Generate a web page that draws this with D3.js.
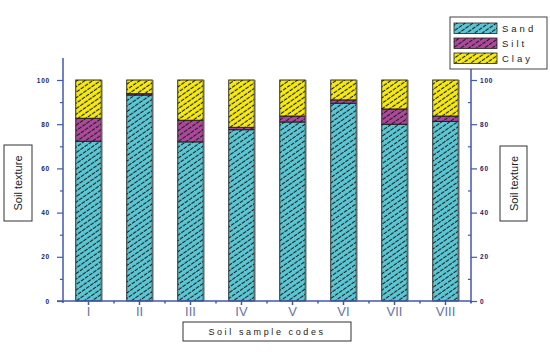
<!DOCTYPE html>
<html><head><meta charset="utf-8">
<script src="https://cdn.jsdelivr.net/npm/d3@7"></script>
<style>body{margin:0;background:#fff;} svg{display:block;font-family:Arial,"Liberation Sans",sans-serif;}</style>
</head><body><svg id="c" width="550" height="354"></svg>
<script>
const categories = ["I","II","III","IV","V","VI","VII","VIII"];
const sand = [72.3, 93.2, 72, 77.5, 81, 89.5, 80, 81.3];
const silt = [10.4, 0.6, 9.8, 1.1, 2.7, 1.5, 6.9, 2.4];
const clay = [17.3, 6.2, 18.2, 21.4, 16.3, 9, 13.1, 16.3];
const seriesNames = ["Sand","Silt","Clay"];
const seriesColors = ["#5cc8d6","#b0489c","#f9ea12"];
const yTicks = [0,20,40,60,80,100];

const svg = d3.select("#c");
const x0 = 63, x1 = 471, yb = 301, yt = 80;
const x = d3.scaleBand().domain(categories).range([x0, x1]).paddingInner(0.5).paddingOuter(0.25);
const y = d3.scaleLinear().domain([0,100]).range([yb, yt]);

const defs = svg.append("defs");
seriesColors.forEach((c,i)=>{
  const p = defs.append("pattern").attr("id","h"+i).attr("patternUnits","userSpaceOnUse")
    .attr("width",5).attr("height",4.5).attr("patternTransform","rotate(-35)");
  p.append("rect").attr("width",5).attr("height",4.5).attr("fill",c);
  p.append("line").attr("x1",0).attr("y1",2.2).attr("x2",5).attr("y2",2.2).attr("stroke","#16201f").attr("stroke-width",1.1).attr("stroke-dasharray","4,1");
});

const rows = categories.map((c,i)=>({cat:c, Sand:sand[i], Silt:silt[i], Clay:clay[i]}));
const stack = d3.stack().keys(seriesNames)(rows);
const bw = x.bandwidth();
stack.forEach((s,si)=>{
  svg.append("g").selectAll("rect").data(s).join("rect")
    .attr("x", d=>x(d.data.cat)).attr("width", bw)
    .attr("y", d=>y(d[1])).attr("height", d=>y(d[0])-y(d[1]))
    .attr("fill","url(#h"+si+")").attr("stroke","#1a1a1a").attr("stroke-width",0.9);
});
// shadow edge on right
svg.append("g").selectAll("line").data(categories).join("line")
  .attr("x1",d=>x(d)+bw+1).attr("x2",d=>x(d)+bw+1).attr("y1",y(100)).attr("y2",yb)
  .attr("stroke","#999").attr("stroke-width",1);

const axisCol = "#4158b0";
const lblStyle = a=>a.attr("fill","#1a2466").attr("font-size",6.5).attr("font-weight","900").attr("letter-spacing",0.8);
// left axis
const gl = svg.append("g").attr("transform",`translate(${x0},0)`);
gl.append("line").attr("x1",0).attr("x2",0).attr("y1",58).attr("y2",303).attr("stroke",axisCol).attr("stroke-width",1.5);
gl.append("g").call(d3.axisLeft(y).tickValues(yTicks).tickSize(6).tickFormat(d3.format("d")))
  .call(a=>{a.select(".domain").remove();
    a.selectAll("line").attr("stroke",axisCol).attr("stroke-width",1.2);
    lblStyle(a.selectAll("text").attr("x",-13));});
gl.append("g").call(d3.axisLeft(y).tickValues([10,30,50,70,90]).tickSize(3).tickFormat(""))
  .call(a=>{a.select(".domain").remove();a.selectAll("line").attr("stroke",axisCol).attr("stroke-width",1.2);});
// right axis
const gr = svg.append("g").attr("transform",`translate(${x1},0)`);
gr.append("line").attr("x1",0).attr("x2",0).attr("y1",69).attr("y2",303).attr("stroke",axisCol).attr("stroke-width",1.5);
gr.append("g").call(d3.axisRight(y).tickValues(yTicks).tickSize(6).tickFormat(d3.format("d")))
  .call(a=>{a.select(".domain").remove();
    a.selectAll("line").attr("stroke",axisCol).attr("stroke-width",1.2);
    lblStyle(a.selectAll("text").attr("x",9));});
gr.append("g").call(d3.axisLeft(y).tickValues([10,30,50,70,90]).tickSize(3).tickFormat(""))
  .call(a=>{a.select(".domain").remove();a.selectAll("line").attr("stroke",axisCol).attr("stroke-width",1.2);});

// bottom axis
const gb = svg.append("g").attr("transform",`translate(0,${yb})`);
gb.append("line").attr("x1",57).attr("x2",x1).attr("y1",0).attr("y2",0).attr("stroke",axisCol).attr("stroke-width",1.5);
gb.append("g").call(d3.axisBottom(x).tickSize(4))
  .call(a=>{a.select(".domain").remove();
    a.selectAll("line").attr("stroke",axisCol).attr("stroke-width",1.5);
    a.selectAll("text").attr("fill","#6676a4").attr("font-size",13).attr("y",6).attr("font-family","Liberation Sans, Arial, sans-serif");});
// minor ticks between categories
const step = x.step();
gb.append("g").selectAll("line").data(categories).join("line")
  .attr("x1",d=>x(d)+bw/2+step/2).attr("x2",d=>x(d)+bw/2+step/2)
  .attr("y1",0).attr("y2",2.5).attr("stroke",axisCol).attr("stroke-width",1.5);

// axis title boxes
function vbox(cx, yTop, yBot, w){
  svg.append("rect").attr("x",cx-w/2).attr("y",yTop).attr("width",w).attr("height",yBot-yTop)
    .attr("fill","#fff").attr("stroke","#333").attr("stroke-width",1);
  svg.append("text").attr("transform",`translate(${cx+4},${(yTop+yBot)/2}) rotate(-90)`)
    .attr("text-anchor","middle").attr("font-size",11).attr("fill","#222").text("Soil texture");
}
vbox(18,145,221,28);
vbox(513.5,146,221,27);
svg.append("rect").attr("x",183).attr("y",322).attr("width",168).attr("height",19)
  .attr("fill","#fff").attr("stroke","#333").attr("stroke-width",1);
svg.append("text").attr("x",267).attr("y",335).attr("text-anchor","middle").attr("font-size",9)
  .attr("letter-spacing",2.6).attr("fill","#222").text("Soil sample codes");

// legend
const lg = svg.append("g");
lg.append("rect").attr("x",450).attr("y",17).attr("width",97).attr("height",52)
  .attr("fill","#fff").attr("stroke","#444").attr("stroke-width",1);
seriesNames.forEach((n,i)=>{
  const yy = 23 + i*15;
  lg.append("rect").attr("x",454).attr("y",yy).attr("width",43).attr("height",10.5)
    .attr("fill","url(#h"+i+")").attr("stroke","#222").attr("stroke-width",0.8);
  lg.append("text").attr("x",502).attr("y",yy+9).attr("font-size",9.5).attr("letter-spacing",3)
    .attr("fill","#222").text(n);
});
</script></body></html>
